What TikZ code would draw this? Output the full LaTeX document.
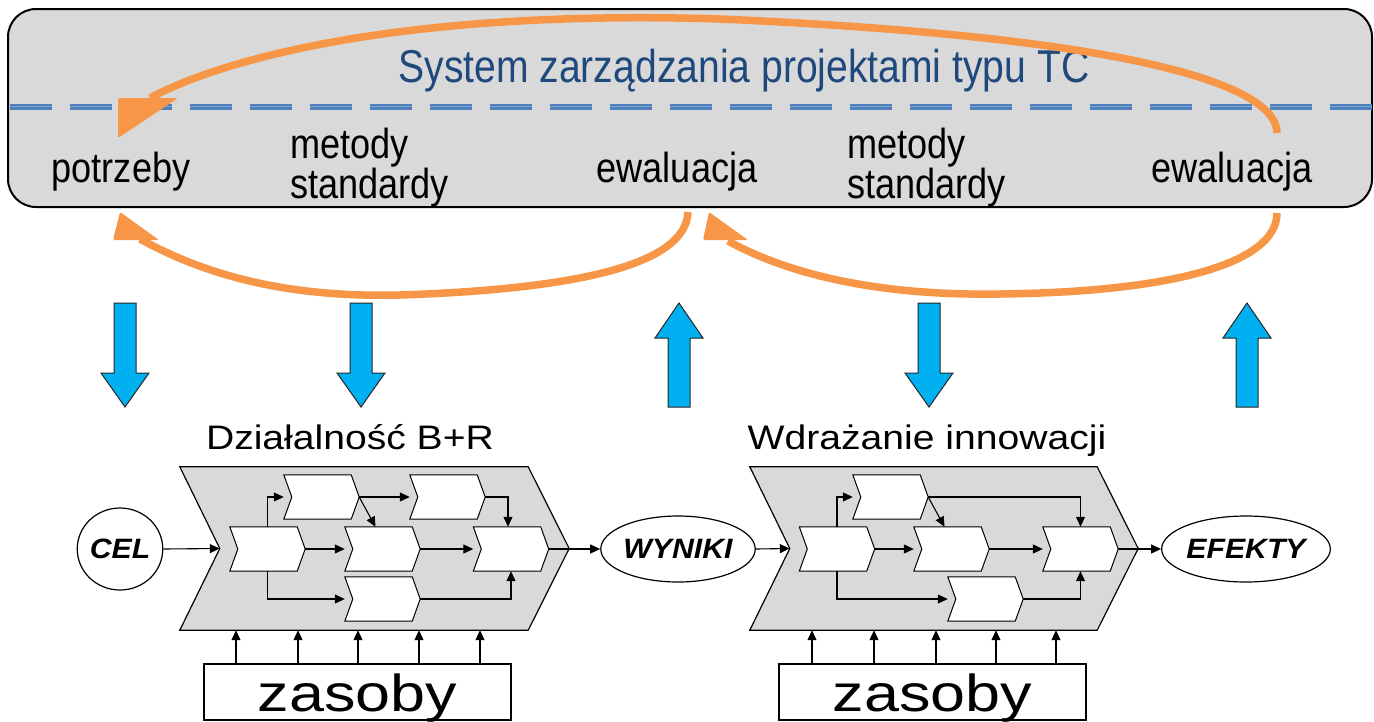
\documentclass[tikz,border=0pt]{standalone}
\usepackage{fontspec}
\setmainfont{Liberation Sans}
\newfontfamily\titfont[FakeStretch=0.85]{Liberation Sans}
\newfontfamily\labfont[FakeStretch=0.86]{Liberation Sans}
\newfontfamily\botfont[FakeStretch=1.15]{Liberation Sans}
\newfontfamily\bifont[FakeStretch=1.08]{Liberation Sans}
\newfontfamily\zasfont[FakeStretch=1.21]{Liberation Sans}
\usetikzlibrary{arrows.meta,calc,shapes.geometric}
\definecolor{boxgray}{RGB}{217,217,217}
\definecolor{titblue}{RGB}{31,73,125}
\definecolor{dashblue}{RGB}{79,129,189}
\definecolor{dashlight}{RGB}{125,163,210}
\definecolor{orng}{RGB}{247,150,70}
\definecolor{cyanarr}{RGB}{0,176,240}
\newcommand\downblock[1]{\filldraw[blockarr] (#1-11,303) -- (#1+11,303) -- (#1+11,373)
    -- (#1+24,373) -- (#1,407) -- (#1-24,373) -- (#1-11,373) -- cycle;}
\newcommand\upblock[1]{\filldraw[blockarr] (#1-11,407) -- (#1+11,407) -- (#1+11,338)
    -- (#1+24,338) -- (#1,303) -- (#1-24,338) -- (#1-11,338) -- cycle;}
\begin{document}
\begin{tikzpicture}[x=1pt,y=-1pt,
  lab/.style={font=\labfont\fontsize{42}{42}\selectfont, inner sep=0, anchor=base},
  labw/.style={font=\labfont\fontsize{42}{42}\selectfont, inner sep=0, anchor=base west},
  bot/.style={font=\botfont\fontsize{34}{34}\selectfont, inner sep=0, anchor=base},
  oval/.style={ellipse, draw, line width=1.2pt, fill=white, inner sep=0,
     font=\bifont\bfseries\itshape\fontsize{28}{28}\selectfont},
  chevline/.style={draw=black, line width=1.2pt},
  bigchev/.style={inner sep=0, minimum height=163pt},
  smallchev/.style={inner sep=0, minimum width=75pt, minimum height=44pt},
  conn/.style={-{Triangle[length=10pt,width=9pt]}, line width=1.1pt},
  blockarr/.style={fill=cyanarr, draw=black!85, line width=1pt},
  orangearr/.style={draw=orng, line width=7.5pt},
  headfill/.style={fill=orng, rounded corners=1.5pt},
  zasbox/.style={draw, line width=1.2pt, fill=white, minimum width=307pt, minimum height=56pt, inner sep=0}]
\useasboundingbox (0,0) rectangle (1374,721);
\fill[white] (0,0) rectangle (1374,721);

% ---- top system box
\draw[line width=2pt, fill=boxgray, rounded corners=28pt] (8,9) rectangle (1372,207);
\draw[dashblue, line width=6pt, dash pattern=on 42pt off 18pt] (10,107) -- (1374,107);
\draw[dashlight, line width=1.5pt, dash pattern=on 42pt off 18pt] (10,106.5) -- (1374,106.5);
\node[font=\titfont\fontsize{46}{46}\selectfont, text=titblue, inner sep=0, anchor=base] (title) at (744,82) {System zarządzania projektami typu TC};

\node[lab] (potrz) at (121,182) {potrzeby};
\node[labw] (met1) at (290,158) {metody};
\node[labw] (std1) at (290,198) {standardy};
\node[lab] (ewal1) at (677,182) {ewaluacja};
\node[labw] (met2) at (847,158) {metody};
\node[labw] (std2) at (847,198) {standardy};
\node[lab] (ewal2) at (1232,182) {ewaluacja};

% ---- orange feedback arrows
\coordinate (o1s) at (1277,133);
\coordinate (o1e) at (150,98);
\draw[orangearr] (o1s) .. controls (1277,88) and (1150,38) .. (720,19)
   .. controls (400,9) and (220,60) .. (o1e);
\fill[headfill] (118,98) -- (178,98) -- (118,138) -- cycle;

\coordinate (o2s) at (688,212);
\coordinate (o2e) at (140,239);
\draw[orangearr] (o2s) .. controls (686,264) and (580,289) .. (400,295)
   .. controls (280,298) and (200,272) .. (o2e);
\fill[headfill] (120,212) -- (113,240) -- (159,240) -- cycle;

\coordinate (o3s) at (1277,213);
\coordinate (o3e) at (728,241);
\draw[orangearr] (o3s) .. controls (1277,264) and (1170,292) .. (1000,294)
   .. controls (880,296) and (790,275) .. (o3e);
\fill[headfill] (709,212) -- (703,240) -- (748,240) -- cycle;

% ---- blue block arrows
\downblock{125}
\downblock{361}
\upblock{679}
\downblock{929}
\upblock{1247}

% ---- section titles
\node[bot] (dzial) at (350,449) {Działalność B+R};
\node[bot] (wdraz) at (927,449) {Wdrażanie innowacji};

% ---- big chevrons
\node[bigchev, minimum width=389pt] (procL) at (374.5,548.5) {};
\node[bigchev, minimum width=388pt] (procR) at (944,548.5) {};
\filldraw[chevline, fill=boxgray] (procL.north west) -- ([xshift=-41pt]procL.north east) -- (procL.east)
  -- ([xshift=-41pt]procL.south east) -- (procL.south west) -- ([xshift=40pt]procL.west) -- cycle;
\filldraw[chevline, fill=boxgray] (procR.north west) -- ([xshift=-41pt]procR.north east) -- (procR.east)
  -- ([xshift=-41pt]procR.south east) -- (procR.south west) -- ([xshift=40pt]procR.west) -- cycle;

% ---- ovals
\node[oval, minimum width=80pt, minimum height=82pt] (cel) at (120,549) {CEL};
\node[oval, minimum width=144pt, minimum height=66pt] (wyn) at (678,549) {WYNIKI};
\node[oval, minimum width=144pt, minimum height=66pt] (efk) at (1246,549) {EFEKTY};

% ---- small chevrons, left
\node[smallchev] (c1) at (267.5,549) {};
\node[smallchev] (c2) at (321.5,497) {};
\node[smallchev] (c3) at (447.5,497) {};
\node[smallchev] (c4) at (382.5,549) {};
\node[smallchev] (c5) at (511,549) {};
\node[smallchev] (c6) at (382.5,599) {};
\foreach \n in {c1,c2,c3,c4,c5,c6} {\filldraw[chevline, fill=white, line width=1pt] (\n.north west) -- ([xshift=-8pt]\n.north east) -- (\n.east)
    -- ([xshift=-8pt]\n.south east) -- (\n.south west) -- ([xshift=8pt]\n.west) -- cycle;}
% ---- small chevrons, right
\node[smallchev] (d1) at (837,549) {};
\node[smallchev] (d2) at (890.5,497) {};
\node[smallchev] (d3) at (951.5,549) {};
\node[smallchev] (d4) at (1080.5,549) {};
\node[smallchev] (d5) at (985.5,599) {};
\foreach \n in {d1,d2,d3,d4,d5} {\filldraw[chevline, fill=white, line width=1pt] (\n.north west) -- ([xshift=-8pt]\n.north east) -- (\n.east)
    -- ([xshift=-8pt]\n.south east) -- (\n.south west) -- ([xshift=8pt]\n.west) -- cycle;}

% ---- connectors left
\draw[conn] (cel.east) -- ([xshift=40pt]procL.west);
\draw[conn] (c1.east) -- (c4.west);
\draw[conn] (c4.east) -- (c5.west);
\draw[conn] (c5.east) -- (wyn.west);
\draw[conn] (c1.north) |- (c2.west);
\draw[conn] (c1.south) |- (c6.west);
\draw[conn] (c2.east) -- (c3.west);
\draw[conn] (c2.east) -- ([xshift=-7pt]c4.north);
\draw[conn] (c3.east) -| ([xshift=-3pt]c5.north);
\draw[conn] (c6.east) -| (c5.south);
% ---- connectors right
\draw[conn] (wyn.east) -- ([xshift=40pt]procR.west);
\draw[conn] (d1.east) -- (d3.west);
\draw[conn] (d3.east) -- (d4.west);
\draw[conn] (d4.east) -- (efk.west);
\draw[conn] (d1.north) |- (d2.west);
\draw[conn] (d1.south) |- (d5.west);
\draw[conn] (d2.east) -- ([xshift=-7pt]d3.north);
\draw[conn] (d2.east) -| (d4.north);
\draw[conn] (d5.east) -| (d4.south);

% ---- resources
\node[zasbox] (zasL) at (357.5,692) {};
\node[zasbox] (zasR) at (932.5,692) {};
\node[font=\zasfont\fontsize{52}{52}\selectfont, inner sep=0, anchor=base] (zasLt) at (357.5,711) {zasoby};
\node[font=\zasfont\fontsize{52}{52}\selectfont, inner sep=0, anchor=base] (zasRt) at (932.5,711) {zasoby};
\foreach \x in {236,298,358,419,480}
  \draw[conn] (\x,0 |- zasL.north) -- (\x,0 |- procL.south);
\foreach \x in {812,874,936,996,1056}
  \draw[conn] (\x,0 |- zasR.north) -- (\x,0 |- procR.south);
\end{tikzpicture}
\end{document}
